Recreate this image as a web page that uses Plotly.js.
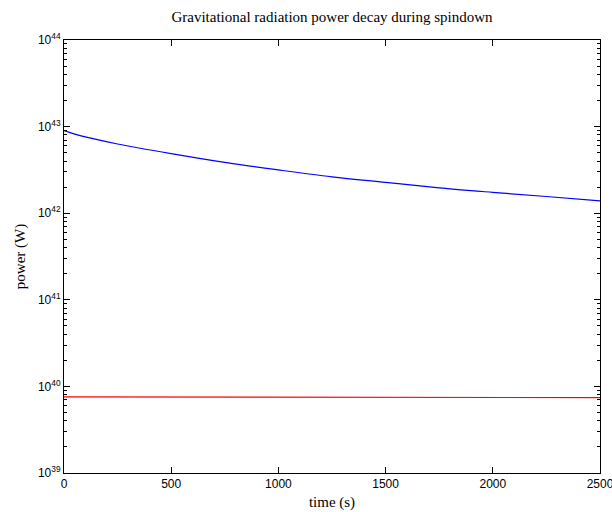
<!DOCTYPE html>
<html>
<head>
<meta charset="utf-8">
<script src="https://cdn.plot.ly/plotly-3.0.1.min.js"></script>
<style>html,body{margin:0;padding:0;background:#fff;}</style>
</head>
<body>
<div id="chart" style="width:612px;height:512px;"></div>
<script>
// time samples (s)
const timeBlue = [0, 50, 125, 250, 500, 750, 1000, 1250, 1500, 1750, 2000, 2250, 2500];
// gravitational radiation power, blue series (W)
const powerBlue = [8.97e42, 8.2e42, 7.35e42, 6.3e42, 4.88e42, 3.86e42, 3.16e42, 2.63e42, 2.27e42, 1.96e42, 1.74e42, 1.56e42, 1.39e42];
// red series
const timeRed = [0, 500, 1000, 1500, 2000, 2500];
const powerRed = [7.55e39, 7.53e39, 7.5e39, 7.47e39, 7.45e39, 7.42e39];

const xTicks = [0, 500, 1000, 1500, 2000, 2500];
const yDecades = [39, 40, 41, 42, 43, 44];

const yTickVals = yDecades.map(d => Math.pow(10, d));
const yTickText = yDecades.map(d => '10<sup>' + d + '</sup>');
const yMinor = [];
for (let d = 39; d < 44; d++) for (let m = 2; m <= 9; m++) yMinor.push(m * Math.pow(10, d));

const traces = [
  {x: timeBlue, y: powerBlue, type: 'scatter', mode: 'lines', line: {color: '#0000ff', width: 1.2, shape: 'spline'}, hoverinfo: 'skip'},
  {x: timeRed, y: powerRed, type: 'scatter', mode: 'lines', line: {color: '#ff0000', width: 1.2}, hoverinfo: 'skip'}
];

const layout = {
  width: 612, height: 512,
  margin: {l: 64, r: 12, t: 40, b: 39, pad: 0},
  paper_bgcolor: '#fff', plot_bgcolor: '#fff',
  showlegend: false,
  title: {text: 'Gravitational radiation power decay during spindown', x: 0.5425, xanchor: 'center', y: 0.967, yanchor: 'middle',
          font: {family: 'Liberation Serif, serif', size: 15, color: '#000'}},
  xaxis: {
    range: [0, 2500], tickvals: xTicks, ticktext: xTicks.map(String),
    ticks: 'inside', ticklen: 6, tickwidth: 1, tickcolor: '#000',
    ticklabeloverflow: 'allow',
    showline: true, linecolor: '#000', linewidth: 1, mirror: 'ticks',
    showgrid: false, zeroline: false,
    tickfont: {family: 'Liberation Sans, Arial, sans-serif', size: 12, color: '#000'},
    title: {text: 'time (s)', font: {family: 'Liberation Serif, serif', size: 15, color: '#000'}, standoff: 6}
  },
  yaxis: {
    type: 'log', range: [39, 44], tickvals: yTickVals, ticktext: yTickText,
    ticks: 'inside', ticklen: 6, tickwidth: 1, tickcolor: '#000',
    ticklabeloverflow: 'allow',
    minor: {tickvals: yMinor, ticks: 'inside', ticklen: 3, tickwidth: 1, tickcolor: '#000', showgrid: false},
    showline: true, linecolor: '#000', linewidth: 1, mirror: 'ticks',
    showgrid: false, zeroline: false,
    tickfont: {family: 'Liberation Sans, Arial, sans-serif', size: 12, color: '#000'},
    title: {text: 'power (W)', font: {family: 'Liberation Serif, serif', size: 15, color: '#000'}, standoff: 8}
  }
};

Plotly.newPlot('chart', traces, layout, {staticPlot: true, displayModeBar: false});
</script>
</body>
</html>
